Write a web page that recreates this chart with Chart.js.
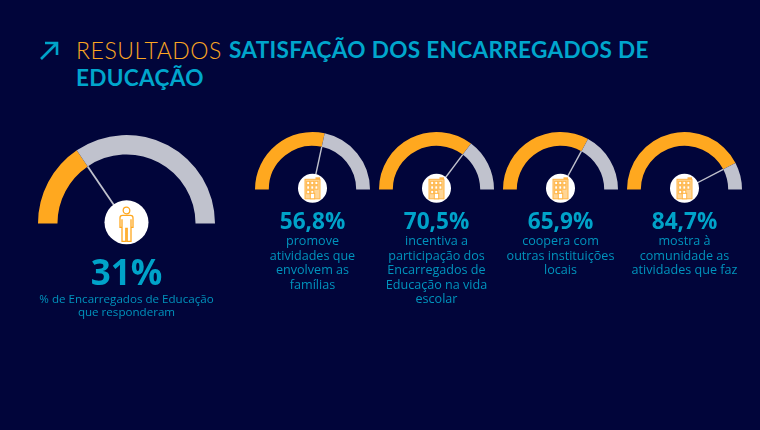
<!DOCTYPE html>
<html lang="pt">
<head>
<meta charset="utf-8">
<title>Resultados</title>
<script src="https://cdn.jsdelivr.net/npm/chart.js@4"></script>
<style>
html,body{margin:0;padding:0;background:#01053a;width:760px;height:430px;overflow:hidden}
#stage{position:relative;width:760px;height:430px;font-family:"Open Sans","Noto Sans",sans-serif}
.t{position:absolute;font:700 22.6px/26px Lato,sans-serif;color:#00a6cc;white-space:nowrap;letter-spacing:.3px}
#t1{left:76px;top:37px;color:#fba622;font-weight:300;letter-spacing:.55px;font-size:23px}
#t2{left:229px;top:37px}
#t3{left:76px;top:65px}
#arrow{position:absolute;left:39px;top:40px}
canvas{position:absolute}
.v{position:absolute;text-align:center;font-weight:700;color:#00a3c9;white-space:nowrap;transform:translateX(-50%)}
.c{position:absolute;text-align:center;color:#0094bd;white-space:nowrap;transform:translateX(-50%)}
</style>
</head>
<body>
<div id="stage">
<svg id="arrow" width="22" height="22" viewBox="0 0 22 22"><path d="M2 19 L18 3 M6 3 H18 V15" fill="none" stroke="#00a4c9" stroke-width="2.6"/></svg>
<div class="t" id="t1">RESULTADOS</div>
<div class="t" id="t2">SATISFAÇÃO DOS ENCARREGADOS DE</div>
<div class="t" id="t3">EDUCAÇÃO</div>
</div>
<script>
const valueLabels = ["31%", "56,8%", "70,5%", "65,9%", "84,7%"];
const gaugeValues = [31, 56.8, 70.5, 65.9, 84.7];
const captions = [
  ["% de Encarregados de Educação", "que responderam"],
  ["promove", "atividades que", "envolvem as", "famílias"],
  ["incentiva a", "participação dos", "Encarregados de", "Educação na vida", "escolar"],
  ["coopera com", "outras instituições", "locais"],
  ["mostra à", "comunidade as", "atividades que faz"]
];
const iconKinds = ["person", "building", "building", "building", "building"];
const layout = [
  {cx:126.5, by:223.5, r:88.5, cut:"78%", disc:22,   below:26.5, vTop:252, vSize:35,   cTop:292, cSize:11.6, cLine:13.4},
  {cx:312.5, by:189.5, r:57.5, cut:"76%", disc:14.5, below:18.5, vTop:208, vSize:22.6, cTop:234, cSize:12.6, cLine:14.6},
  {cx:436.5, by:189.5, r:57.5, cut:"76%", disc:14.5, below:18.5, vTop:208, vSize:22.6, cTop:234, cSize:12.6, cLine:14.6},
  {cx:560.5, by:189.5, r:57.5, cut:"76%", disc:14.5, below:18.5, vTop:208, vSize:22.6, cTop:234, cSize:12.6, cLine:14.6},
  {cx:684.5, by:189.5, r:57.5, cut:"76%", disc:14.5, below:18.5, vTop:208, vSize:22.6, cTop:234, cSize:12.6, cLine:14.6}
];
const ORANGE = "#ffa81f", GREY = "#c0c2cd";

function drawPerson(c, x, y){
  c.save();c.translate(x,y);c.strokeStyle=ORANGE;c.lineWidth=1.3;
  c.beginPath();c.arc(0,-11.8,3.3,0,Math.PI*2);c.stroke();
  c.beginPath();
  c.moveTo(-4,-7);c.lineTo(4,-7);c.quadraticCurveTo(6.5,-7,6.5,-4.5);c.lineTo(6.5,5);c.lineTo(4.5,5);
  c.lineTo(4.5,-3);c.lineTo(4.5,19);c.lineTo(.7,19);c.lineTo(.7,6);c.lineTo(-.7,6);c.lineTo(-.7,19);
  c.lineTo(-4.5,19);c.lineTo(-4.5,-3);c.lineTo(-4.5,5);c.lineTo(-6.5,5);c.lineTo(-6.5,-4.5);
  c.quadraticCurveTo(-6.5,-7,-4,-7);c.closePath();c.stroke();
  c.restore();
}
function drawBuilding(c, x, y){
  c.save();c.translate(x,y);c.strokeStyle="#ffb445";c.lineWidth=1;c.fillStyle="#ffd595";
  c.fillRect(-7.5,-9,15,19.5);c.strokeRect(-7.5,-9,15,19.5);
  c.fillStyle="#ffb445";c.fillRect(3,-11,4.5,2);
  c.fillStyle="#fff";
  for(let i=0;i<3;i++)for(let j=0;j<3;j++){
    if(i===2&&j===2)continue;
    const wx=-5.8+j*4.1, wy=-7+i*4.5;
    c.fillRect(wx,wy,3,3.4);c.strokeRect(wx,wy,3,3.4);
  }
  c.fillRect(-2.2,5,4.4,5.5);c.strokeRect(-2.2,5,4.4,5.5);
  c.restore();
}
const gaugeDecor = {
  id:"gaugeDecor",
  afterDatasetsDraw(chart, args, opts){
    const arc = chart.getDatasetMeta(0).data[0];
    const c = chart.ctx, x = arc.x, y = arc.y;
    c.save();
    c.strokeStyle = GREY; c.lineWidth = opts.needle;
    c.beginPath(); c.moveTo(x,y);
    c.lineTo(x+Math.cos(arc.endAngle)*arc.innerRadius, y+Math.sin(arc.endAngle)*arc.innerRadius);
    c.stroke();
    c.fillStyle = "#fff";
    c.beginPath(); c.arc(x,y-1.2,opts.disc,0,Math.PI*2); c.fill();
    if(opts.kind==="person") drawPerson(c,x,y-1.2); else drawBuilding(c,x,y-1.2);
    c.restore();
  }
};
const stage = document.getElementById("stage");
gaugeValues.forEach((v,i)=>{
  const L = layout[i], pad = 2;
  const cv = document.createElement("canvas");
  cv.width = L.r*2+pad*2; cv.height = L.r+pad+L.below;
  cv.style.left = (L.cx-L.r-pad)+"px"; cv.style.top = (L.by-L.r-pad)+"px";
  stage.appendChild(cv);
  new Chart(cv,{
    type:"doughnut",
    data:{labels:["Sim","Restante"],datasets:[{data:[v,100-v],backgroundColor:[ORANGE,GREY],borderWidth:0}]},
    options:{
      responsive:false,animation:false,rotation:-90,circumference:180,cutout:L.cut,
      layout:{padding:{left:pad,right:pad,top:pad,bottom:L.below}},
      plugins:{legend:{display:false},tooltip:{enabled:false},
        gaugeDecor:{disc:L.disc,kind:iconKinds[i],needle:i===0?1.8:1.4}}
    },
    plugins:[gaugeDecor]
  });
  const t = document.createElement("div");
  t.className="v";t.textContent=valueLabels[i];
  t.style.cssText=`left:${L.cx}px;top:${L.vTop}px;font-size:${L.vSize}px;line-height:${L.vSize+4}px;height:${L.vSize+4}px`;
  stage.appendChild(t);
  captions[i].forEach((line,k)=>{
    const d = document.createElement("div");
    d.className="c";d.textContent=line;
    d.style.cssText=`left:${L.cx}px;top:${L.cTop+k*L.cLine}px;font-size:${L.cSize}px;line-height:${L.cLine}px;height:${L.cLine}px`;
    stage.appendChild(d);
  });
});
</script>
</body>
</html>
